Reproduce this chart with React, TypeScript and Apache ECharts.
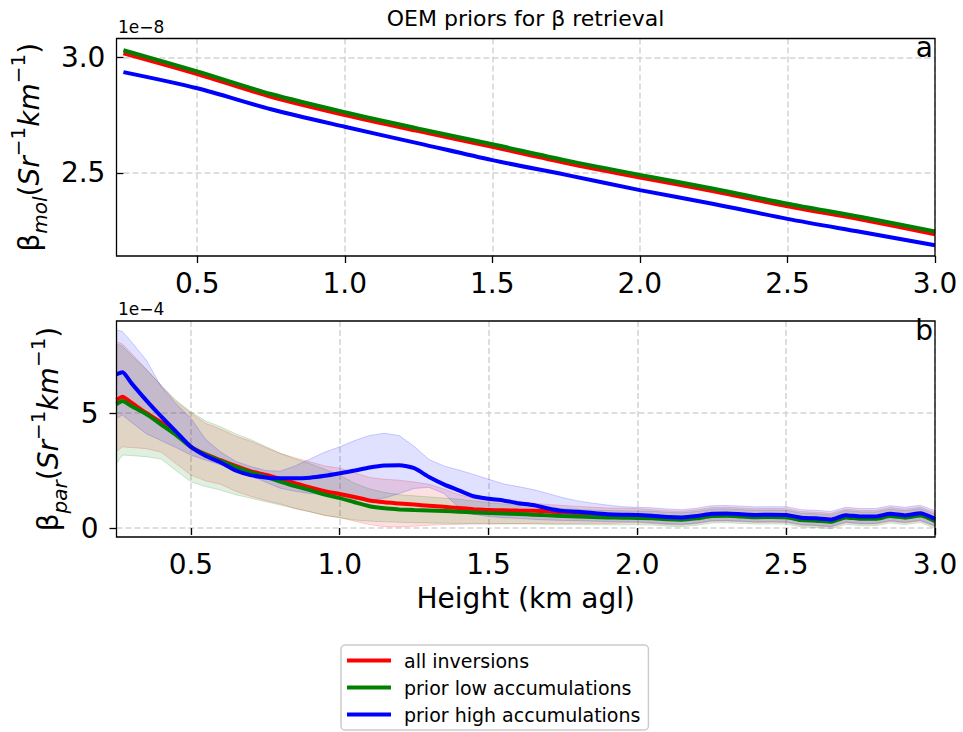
import React, { useEffect, useRef } from "react";
import * as echarts from "echarts";

// ---------- Panel a: molecular backscatter (units of 1e-8) ----------
const heightsA = [0.25, 0.5, 0.75, 1.0, 1.25, 1.5, 1.75, 2.0, 2.25, 2.5, 2.75, 3.0];
const molAll = [3.019, 2.929, 2.83, 2.751, 2.681, 2.613, 2.543, 2.48, 2.42, 2.355, 2.297, 2.233];
const molLow = [3.032, 2.94, 2.842, 2.763, 2.692, 2.624, 2.554, 2.491, 2.431, 2.366, 2.308, 2.245];
const molHigh = [2.937, 2.867, 2.776, 2.70, 2.628, 2.555, 2.491, 2.425, 2.365, 2.30, 2.243, 2.186];

// ---------- Panel b: particle backscatter (units of 1e-4) ----------
const heightsB = [
  0.25, 0.27, 0.3, 0.35, 0.4, 0.45, 0.5, 0.55, 0.6, 0.65, 0.7, 0.75, 0.8, 0.85, 0.9, 0.95,
  1.0, 1.05, 1.1, 1.15, 1.2, 1.25, 1.3, 1.35, 1.4, 1.45, 1.5, 1.55, 1.6, 1.65, 1.7, 1.75,
  1.8, 1.85, 1.9, 1.95, 2.0, 2.05, 2.1, 2.15, 2.2, 2.25, 2.3, 2.35, 2.4, 2.45, 2.5, 2.55,
  2.6, 2.65, 2.7, 2.75, 2.8, 2.85, 2.9, 2.95, 3.0,
];
const parAll = [
  5.57, 5.71, 5.45, 5.0, 4.6, 4.1, 3.53, 3.2, 2.95, 2.7, 2.47, 2.32, 2.14, 1.95, 1.76, 1.6,
  1.48, 1.35, 1.2, 1.12, 1.07, 1.02, 0.97, 0.92, 0.87, 0.82, 0.78, 0.77, 0.76, 0.75, 0.72, 0.68,
  0.64, 0.6, 0.57, 0.56, 0.55, 0.5, 0.45, 0.43, 0.49, 0.59, 0.6, 0.57, 0.54, 0.55, 0.54, 0.42,
  0.39, 0.34, 0.53, 0.47, 0.47, 0.59, 0.52, 0.61, 0.37,
];
const parAllLo = [
  3.32, 3.53, 3.5, 3.45, 3.3, 2.8, 2.3, 2.05, 1.9, 1.6, 1.38, 1.2, 1.05, 0.85, 0.71, 0.55,
  0.45, 0.3, 0.15, 0.06, 0.05, 0.08, 0.12, 0.15, 0.16, 0.17, 0.17, 0.18, 0.19, 0.2, 0.2, 0.2,
  0.2, 0.2, 0.2, 0.22, 0.23, 0.2, 0.15, 0.13, 0.19, 0.29, 0.3, 0.27, 0.24, 0.25, 0.24, 0.12,
  0.09, 0.04, 0.23, 0.17, 0.17, 0.29, 0.22, 0.31, 0.07,
];
const parAllHi = [
  8.1, 8.0, 7.6, 6.9, 6.2, 5.5, 4.99, 4.55, 4.3, 4.0, 3.78, 3.5, 3.25, 3.05, 2.88, 2.7,
  2.6, 2.4, 2.2, 2.12, 2.08, 2.0, 1.9, 1.7, 1.45, 1.3, 1.2, 1.15, 1.12, 1.08, 1.02, 0.98,
  0.94, 0.9, 0.87, 0.86, 0.85, 0.8, 0.75, 0.73, 0.79, 0.89, 0.9, 0.87, 0.84, 0.85, 0.84, 0.72,
  0.69, 0.64, 0.83, 0.77, 0.77, 0.89, 0.82, 0.91, 0.67,
];
const parLow = [
  5.38, 5.52, 5.3, 4.95, 4.5, 4.05, 3.53, 3.18, 2.92, 2.65, 2.42, 2.23, 2.02, 1.82, 1.65, 1.45,
  1.3, 1.12, 0.95, 0.86, 0.81, 0.78, 0.76, 0.74, 0.71, 0.68, 0.65, 0.63, 0.61, 0.58, 0.55, 0.52,
  0.5, 0.48, 0.46, 0.45, 0.44, 0.43, 0.38, 0.36, 0.42, 0.52, 0.53, 0.5, 0.47, 0.48, 0.47, 0.35,
  0.32, 0.27, 0.46, 0.4, 0.4, 0.52, 0.45, 0.54, 0.3,
];
const parLowLo = [
  2.81, 3.17, 3.15, 3.1, 3.0, 2.5, 2.01, 1.8, 1.65, 1.45, 1.3, 1.15, 1.0, 0.85, 0.7, 0.55,
  0.45, 0.35, 0.3, 0.27, 0.25, 0.23, 0.22, 0.21, 0.2, 0.2, 0.2, 0.19, 0.18, 0.17, 0.16, 0.15,
  0.15, 0.14, 0.14, 0.14, 0.14, 0.13, 0.08, 0.06, 0.12, 0.22, 0.23, 0.2, 0.17, 0.18, 0.17, 0.05,
  0.02, -0.03, 0.16, 0.1, 0.1, 0.22, 0.15, 0.24, 0.0,
];
const parLowHi = [
  8.0, 7.9, 7.5, 6.9, 6.2, 5.55, 5.05, 4.65, 4.4, 4.1, 3.85, 3.55, 3.25, 3.0, 2.8, 2.55,
  2.3, 1.95, 1.7, 1.55, 1.45, 1.4, 1.35, 1.3, 1.25, 1.18, 1.1, 1.05, 1.0, 0.95, 0.9, 0.85,
  0.81, 0.78, 0.76, 0.75, 0.74, 0.73, 0.68, 0.66, 0.72, 0.82, 0.83, 0.8, 0.77, 0.78, 0.77, 0.65,
  0.62, 0.57, 0.76, 0.7, 0.7, 0.82, 0.75, 0.84, 0.6,
];
const parHigh = [
  6.68, 6.77, 6.3, 5.55, 4.85, 4.19, 3.53, 3.13, 2.85, 2.5, 2.3, 2.2, 2.16, 2.16, 2.19, 2.27,
  2.38, 2.5, 2.63, 2.72, 2.73, 2.6, 2.22, 1.9, 1.64, 1.38, 1.27, 1.2, 1.08, 1.0, 0.85, 0.74,
  0.71, 0.65, 0.6, 0.58, 0.57, 0.53, 0.48, 0.46, 0.52, 0.62, 0.63, 0.6, 0.57, 0.58, 0.57, 0.45,
  0.42, 0.37, 0.56, 0.5, 0.5, 0.62, 0.55, 0.64, 0.4,
];
const parHighLo = [
  4.77, 4.91, 4.6, 4.1, 3.8, 3.5, 3.17, 2.95, 2.75, 2.5, 2.3, 2.0, 1.73, 1.6, 1.5, 1.45,
  1.4, 1.25, 1.2, 1.3, 1.5, 1.72, 1.77, 1.5, 0.9, 0.6, 0.5, 0.45, 0.42, 0.38, 0.35, 0.33,
  0.32, 0.3, 0.28, 0.27, 0.27, 0.23, 0.18, 0.16, 0.22, 0.32, 0.33, 0.3, 0.27, 0.28, 0.27, 0.15,
  0.12, 0.07, 0.26, 0.2, 0.2, 0.32, 0.25, 0.34, 0.1,
];
const parHighHi = [
  8.61, 8.54, 8.1, 7.3, 6.15, 5.4, 4.77, 3.85, 3.3, 2.9, 2.68, 2.5, 2.47, 2.7, 3.0, 3.3,
  3.53, 3.8, 4.02, 4.12, 4.02, 3.55, 2.98, 2.7, 2.52, 2.33, 2.12, 1.92, 1.8, 1.67, 1.5, 1.32,
  1.18, 1.08, 1.0, 0.93, 0.9, 0.88, 0.83, 0.8, 0.86, 0.97, 0.98, 0.95, 0.92, 0.93, 0.92, 0.8,
  0.77, 0.72, 0.9, 0.85, 0.85, 0.97, 0.9, 0.99, 0.75,
];

// ---------- ticks, labels ----------
const xTicks = [0.5, 1.0, 1.5, 2.0, 2.5, 3.0];
const yTicksA = [2.5, 3.0];
const yTicksB = [0, 5];
const seriesNames = ["all inversions", "prior low accumulations", "prior high accumulations"];
const seriesColors = ["#ff0000", "#008000", "#0000ff"];
const titleText = "OEM priors for \u03b2 retrieval";
const xName = "Height (km agl)";
const nameA = "{b|\u03b2}{sub|mol}{n|(}{it|Sr}{sup|\u22121}{it|km}{sup|\u22121}{n|)}";
const nameB = "{b|\u03b2}{sub|par}{n|(}{it|Sr}{sup|\u22121}{it|km}{sup|\u22121}{n|)}";

const FONT = "DejaVu Sans";

const GRID_A = { left: 116.5, top: 38.5, width: 818.5, height: 217.5 };
const GRID_B = { left: 116.5, top: 321, width: 818.5, height: 216 };

const richName = {
  b: { fontSize: 28, lineHeight: 42, fontFamily: FONT, color: "#000" },
  n: { fontSize: 28, lineHeight: 42, fontFamily: FONT, color: "#000" },
  it: { fontSize: 28, lineHeight: 42, fontFamily: FONT, fontStyle: "italic", color: "#000" },
  sub: { fontSize: 20, lineHeight: 32, fontFamily: FONT, fontStyle: "italic", color: "#000", verticalAlign: "bottom" },
  sup: { fontSize: 20, lineHeight: 26, fontFamily: FONT, color: "#000", verticalAlign: "top" },
};

function rgba(hex: string, a: number) {
  const r = parseInt(hex.slice(1, 3), 16);
  const g = parseInt(hex.slice(3, 5), 16);
  const b = parseInt(hex.slice(5, 7), 16);
  return `rgba(${r},${g},${b},${a})`;
}

function makeXAxis(gridIndex: number, withName: boolean) {
  return {
    type: "value",
    gridIndex,
    min: 0.25,
    max: 3.0,
    name: withName ? xName : "",
    nameLocation: "middle",
    nameGap: 47,
    nameTextStyle: { fontSize: 28, fontFamily: FONT, color: "#000" },
    axisLine: { show: false },
    axisTick: { show: true, length: 7, customValues: xTicks, lineStyle: { color: "#000", width: 1.3 } },
    axisLabel: {
      customValues: xTicks,
      fontSize: 28,
      fontFamily: FONT,
      color: "#000",
      margin: 13,
      formatter: (v: number) => v.toFixed(1),
    },
    splitLine: { show: true, lineStyle: { color: "#d4d4d4", width: 1.5, type: [6, 3] } },
  };
}

function makeYAxis(gridIndex: number, min: number, max: number, ticks: number[], name: string, gap: number, digits: number) {
  return {
    type: "value",
    gridIndex,
    min,
    max,
    name,
    nameLocation: "middle",
    nameGap: gap,
    nameTextStyle: { fontFamily: FONT, color: "#000", rich: richName },
    axisLine: { show: false },
    axisTick: { show: true, length: 7, customValues: ticks, lineStyle: { color: "#000", width: 1.3 } },
    axisLabel: {
      customValues: ticks,
      fontSize: 28,
      fontFamily: FONT,
      color: "#000",
      margin: 18,
      formatter: (v: number) => v.toFixed(digits),
    },
    splitLine: { show: true, lineStyle: { color: "#d4d4d4", width: 1.5, type: [6, 3] } },
  };
}

function bandSeries(id: string, lo: number[], hi: number[], color: string) {
  return {
    type: "custom",
    name: id,
    xAxisIndex: 1,
    yAxisIndex: 1,
    silent: true,
    z: 1,
    data: heightsB.map((h, i) => [h, lo[i], hi[i]]),
    encode: { x: 0, y: [1, 2] },
    renderItem: (params: any, api: any) => {
      if (params.dataIndex !== 0) return null;
      const top = heightsB.map((h, i) => api.coord([h, hi[i]]));
      const bot = heightsB.map((h, i) => api.coord([h, lo[i]])).reverse();
      return {
        type: "polygon",
        shape: { points: top.concat(bot) },
        style: { fill: rgba(color, 0.12), stroke: rgba(color, 0.18), lineWidth: 1 },
      };
    },
  };
}

function lineSeries(name: string, color: string, axis: number, xs: number[], ys: number[], smooth: number) {
  return {
    type: "line",
    name,
    xAxisIndex: axis,
    yAxisIndex: axis,
    data: xs.map((h, i) => [h, ys[i]]),
    symbol: "none",
    showSymbol: false,
    smooth,
    color,
    lineStyle: { color, width: 4 },
    itemStyle: { color },
    z: 3,
  };
}

function frame(g: { left: number; top: number; width: number; height: number }) {
  return {
    type: "rect",
    silent: true,
    z: 100,
    shape: { x: g.left, y: g.top, width: g.width, height: g.height },
    style: { fill: "none", stroke: "#000", lineWidth: 1.3 },
  };
}

export default function App() {
  const ref = useRef<HTMLDivElement | null>(null);

  useEffect(() => {
    if (!ref.current) return;
    const chart = echarts.init(ref.current, null, { renderer: "svg" });
    const option: any = {
      animation: false,
      backgroundColor: "#fff",
      textStyle: { fontFamily: FONT },
      grid: [
        { ...GRID_A, show: false },
        { ...GRID_B, show: false },
      ],
      xAxis: [makeXAxis(0, false), makeXAxis(1, true)],
      yAxis: [
        makeYAxis(0, 2.139, 3.083, yTicksA, nameA, 69, 1),
        makeYAxis(1, -0.39, 9.0, yTicksB, nameB, 47, 0),
      ],
      legend: {
        data: seriesNames,
        orient: "vertical",
        left: 341,
        top: 645,
        icon: "rect",
        itemWidth: 44,
        itemHeight: 4,
        itemGap: 8,
        selectedMode: false,
        padding: [6, 8, 6, 6],
        borderColor: "#cccccc",
        borderWidth: 1.5,
        borderRadius: 4,
        textStyle: { fontSize: 19, lineHeight: 19, fontFamily: FONT, color: "#000", padding: [0, 0, 0, 8] },
      },
      graphic: [
        frame(GRID_A),
        frame(GRID_B),
        { type: "text", x: 525.5, y: 18, style: { text: titleText, fontSize: 22, fontFamily: FONT, fill: "#000", align: "center", verticalAlign: "middle" } },
        { type: "text", x: 118, y: 26.8, style: { text: "1e\u22128", fontSize: 17, fontFamily: FONT, fill: "#000", align: "left", verticalAlign: "middle" } },
        { type: "text", x: 118, y: 309.3, style: { text: "1e\u22124", fontSize: 17, fontFamily: FONT, fill: "#000", align: "left", verticalAlign: "middle" } },
        { type: "text", x: 933, y: 47.6, style: { text: "a", fontSize: 28, fontFamily: FONT, fill: "#000", align: "right", verticalAlign: "middle" } },
        { type: "text", x: 933, y: 330.1, style: { text: "b", fontSize: 28, fontFamily: FONT, fill: "#000", align: "right", verticalAlign: "middle" } },
      ],
      series: [
        lineSeries(seriesNames[0], seriesColors[0], 0, heightsA, molAll, 0.3),
        lineSeries(seriesNames[1], seriesColors[1], 0, heightsA, molLow, 0.3),
        lineSeries(seriesNames[2], seriesColors[2], 0, heightsA, molHigh, 0.3),
        bandSeries("band all", parAllLo, parAllHi, seriesColors[0]),
        bandSeries("band low", parLowLo, parLowHi, seriesColors[1]),
        bandSeries("band high", parHighLo, parHighHi, seriesColors[2]),
        lineSeries(seriesNames[0], seriesColors[0], 1, heightsB, parAll, 0.2),
        lineSeries(seriesNames[1], seriesColors[1], 1, heightsB, parLow, 0.2),
        lineSeries(seriesNames[2], seriesColors[2], 1, heightsB, parHigh, 0.2),
      ],
    };
    chart.setOption(option);
    return () => {
      chart.dispose();
    };
  }, []);

  return (
    <div
      ref={ref}
      style={{ position: "fixed", left: 0, top: 0, width: 963, height: 732, background: "#fff" }}
    />
  );
}
